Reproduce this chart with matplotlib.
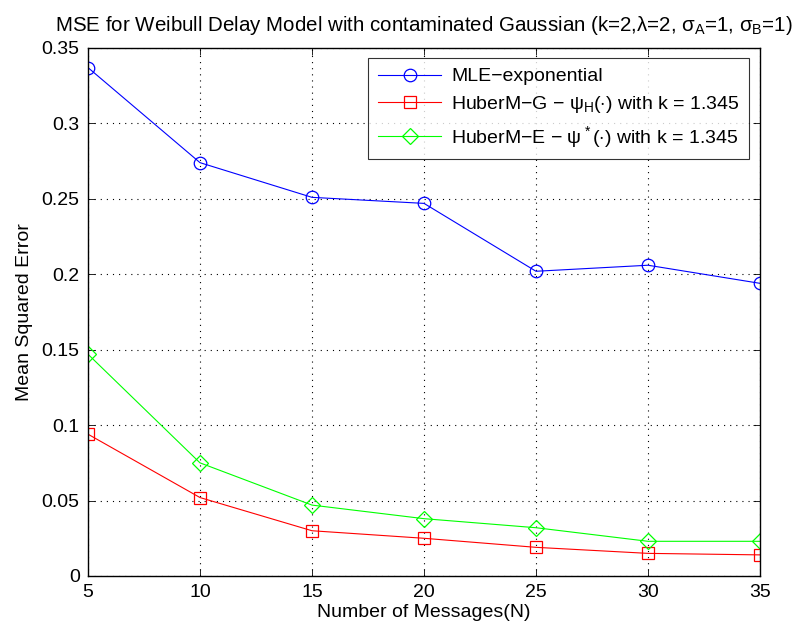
import matplotlib
matplotlib.use("Agg")
import matplotlib.pyplot as plt

plt.rcParams['font.family'] = ['Liberation Sans', 'DejaVu Sans']
plt.rcParams['mathtext.fontset'] = 'custom'
plt.rcParams['mathtext.rm'] = 'Liberation Sans'
plt.rcParams['mathtext.it'] = 'Liberation Sans'
plt.rcParams['mathtext.sf'] = 'Liberation Sans'

N = [5, 10, 15, 20, 25, 30, 35]
mle_exp = [0.337, 0.274, 0.251, 0.247, 0.202, 0.206, 0.194]
huber_g = [0.094, 0.052, 0.030, 0.025, 0.019, 0.015, 0.014]
huber_e = [0.147, 0.075, 0.047, 0.038, 0.032, 0.023, 0.023]
xticks = [5, 10, 15, 20, 25, 30, 35]
yticks = [0, 0.05, 0.1, 0.15, 0.2, 0.25, 0.3, 0.35]
ytick_labels = ['0', '0.05', '0.1', '0.15', '0.2', '0.25', '0.3', '0.35']

FS = 14

fig = plt.figure(figsize=(8.02, 6.37), dpi=100)
ax = fig.add_axes([88/802, 1-576/637, (760-88)/802, (576-48)/637])

ax.plot(N, mle_exp, color='#0000ff', marker='o', markersize=9, markerfacecolor='none',
        markeredgewidth=0.9, linewidth=0.8, label='MLE\u2212exponential')
ax.plot(N, huber_g, color='#ff0000', marker='s', markersize=8, markerfacecolor='none',
        markeredgewidth=0.9, linewidth=0.8,
        label='HuberM\u2212G \u2212 $\\psi_H(\\cdot)$ with k = 1.345')
ax.plot(N, huber_e, color='#00ff00', marker='D', markersize=8, markerfacecolor='none',
        markeredgewidth=0.9, linewidth=0.8,
        label='HuberM\u2212E \u2212 $\\psi^*(\\cdot)$ with k = 1.345')

ax.set_xlim(5, 35)
ax.set_ylim(0, 0.35)
ax.set_xticks(xticks)
ax.set_yticks(yticks)
ax.set_yticklabels(ytick_labels)
ax.tick_params(direction='in', top=True, right=True, labelsize=FS, length=5, width=0.6, pad=6)
ax.grid(True, color='black', linestyle=(0, (1, 4.5)), linewidth=0.8)
for s in ax.spines.values():
    s.set_linewidth(1.0)

ax.set_xlabel('Number of Messages(N)', fontsize=FS, labelpad=2)
ax.set_ylabel('Mean Squared Error', fontsize=FS, labelpad=6)
ax.set_title('MSE for Weibull Delay Model with contaminated Gaussian (k=2,$\\lambda$=2, $\\sigma_A$=1, $\\sigma_B$=1)',
             fontsize=14.8, pad=12)

leg = ax.legend(loc='upper right', fontsize=FS, frameon=True, fancybox=False,
                edgecolor='black', borderpad=0.5, handlelength=3.25, handletextpad=0.5,
                labelspacing=0.45, bbox_to_anchor=(749/802, 1-58/637),
                bbox_transform=fig.transFigure, borderaxespad=0)
leg.get_frame().set_linewidth(0.8)

fig.savefig('out.png', dpi=100, facecolor='white')
